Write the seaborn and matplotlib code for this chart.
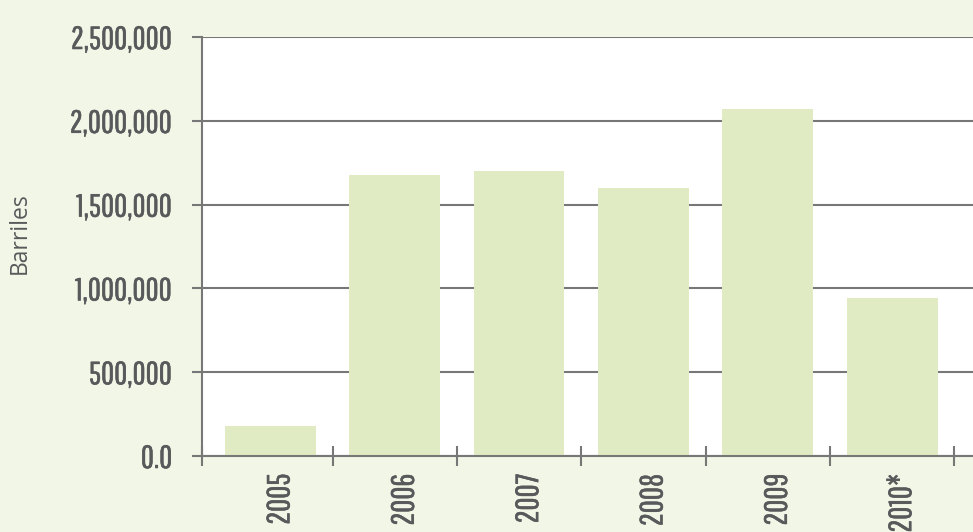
import matplotlib
matplotlib.use("Agg")
import matplotlib.pyplot as plt
import matplotlib.transforms as mtransforms
import matplotlib.patheffects as pe
from matplotlib.ticker import FuncFormatter, FixedLocator
from matplotlib.font_manager import FontProperties
import seaborn as sns
import pandas as pd

# Annual volumes (barrels)
years = ["2005", "2006", "2007", "2008", "2009", "2010*"]
barrels = [178000, 1676000, 1700000, 1600000, 2070000, 943000]
y_ticks = [0, 500000, 1000000, 1500000, 2000000, 2500000]

BG = "#f2f6e6"
BAR = "#e0eac3"
GRID = "#777777"
TEXT = "#58595b"

sns.set_theme(style="white")
plt.rcParams["font.family"] = ["Pathway Gothic One", "DejaVu Sans"]

tick_font = FontProperties(family=["Pathway Gothic One", "DejaVu Sans"], size=23)
label_font = FontProperties(family=["Open Sans", "DejaVu Sans"], weight="normal", size=16.5)
bolden = [pe.withStroke(linewidth=0.4, foreground=TEXT)]

df = pd.DataFrame({"year": years, "barrels": barrels})

fig = plt.figure(figsize=(9.73, 5.32), dpi=100, facecolor=BG)
ax = fig.add_axes([202 / 973, 1 - 456 / 532, 1 - 202 / 973, 419 / 532])
ax.set_facecolor("white")

sns.barplot(data=df, x="year", y="barrels", color=BAR, saturation=1,
            width=0.73, linewidth=0, ax=ax, zorder=3)

ax.set_xlim(-0.55, 5.65)
ax.set_ylim(0, 2500000)
ax.yaxis.set_major_locator(FixedLocator(y_ticks))
ax.yaxis.set_major_formatter(FuncFormatter(lambda v, p: "0.0" if v == 0 else f"{int(v):,}"))
ax.grid(axis="y", color=GRID, linewidth=1.5, zorder=1)
ax.grid(axis="x", visible=False)

for side in ("top", "right"):
    ax.spines[side].set_visible(False)
for side in ("left", "bottom"):
    ax.spines[side].set_color(GRID)
    ax.spines[side].set_linewidth(1.5)
    ax.spines[side].set_zorder(4)

ax.tick_params(axis="y", which="major", direction="out", length=7.2, width=1.5,
               color=GRID, pad=14, labelcolor=TEXT, left=True)
ax.tick_params(axis="x", which="major", length=0, pad=12.5,
               labelcolor=TEXT, labelrotation=90)
ax.set_xticks(range(len(years)), years)
# Separator ticks between categories, crossing the baseline
ax.set_xticks([-0.55] + [i + 0.5 for i in range(len(years) - 1)] + [5.5], minor=True)
ax.tick_params(axis="x", which="minor", direction="inout", length=14.4, width=1.5,
               color=GRID, bottom=True)

shift = mtransforms.ScaledTranslation(10 / 100, 0, fig.dpi_scale_trans)
for lab in ax.get_xticklabels():
    lab.set_fontproperties(tick_font)
    lab.set_path_effects(bolden)
    lab.set_transform(lab.get_transform() + shift)
    lab.set_va("top")
    lab.set_ha("center")
for lab in ax.get_yticklabels():
    lab.set_fontproperties(tick_font)
    lab.set_path_effects(bolden)

ax.set_xlabel("")
ax.set_ylabel("Barriles", fontproperties=label_font, color=TEXT)
ax.yaxis.set_label_coords(-0.2205, 0.533)

fig.savefig("out.png", dpi=100, facecolor=BG)
